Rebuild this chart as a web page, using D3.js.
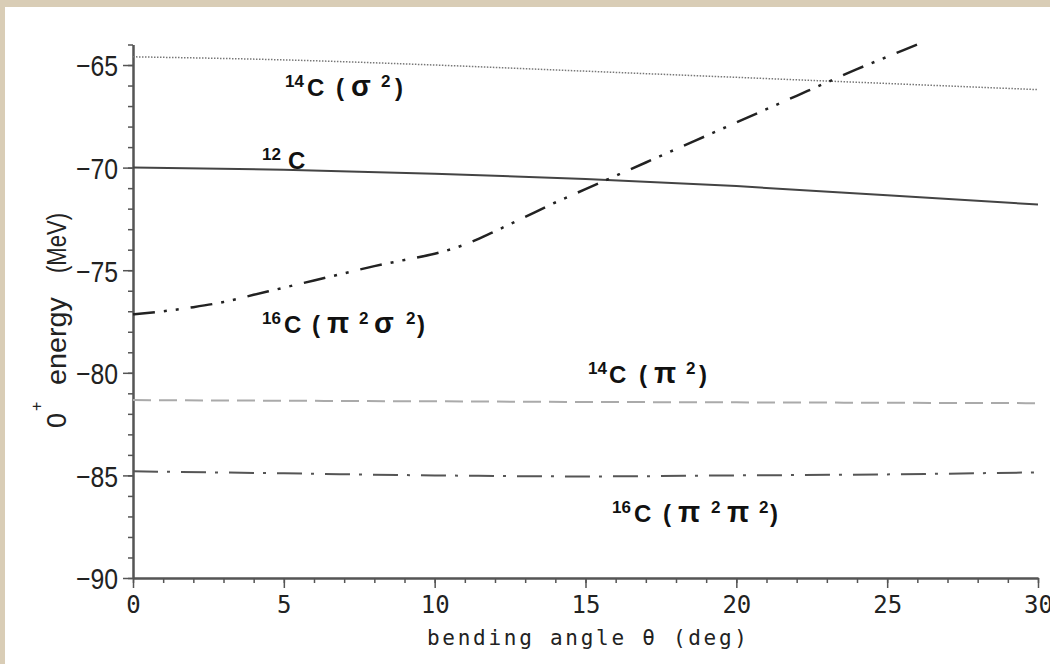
<!DOCTYPE html>
<html>
<head>
<meta charset="utf-8">
<script src="https://cdn.jsdelivr.net/npm/d3@7"></script>
<style>
	body { margin: 0; background: #d9cdb6; }
	svg { display: block; }
</style>
</head>
<body>
<div id="energyVis"></div>
<script>
//###########################################################################
//#                               Data                                      #
//###########################################################################

var anglesCoarse = [0, 5, 10, 15, 20, 25, 30];
var anglesFine = [0, 1, 2, 3, 4, 5, 6, 7, 8, 9, 10, 11, 12, 13, 14, 15, 16, 17, 18, 19, 20, 21, 22, 23, 24, 25, 26];

var c14Sigma = [-64.6, -64.75, -65.0, -65.3, -65.6, -65.9, -66.2];
var c12 = [-70.0, -70.1, -70.3, -70.55, -70.9, -71.35, -71.8];
var c16PiSigma = [-77.15, -77.0, -76.8, -76.55, -76.2, -75.85, -75.5, -75.15, -74.8, -74.5, -74.2,
	-73.75, -73.1, -72.4, -71.7, -71.05, -70.4, -69.75, -69.1, -68.45, -67.8, -67.15, -66.5, -65.85, -65.2, -64.6, -64.0];
var c14Pi = [-81.33, -81.36, -81.39, -81.42, -81.44, -81.46, -81.48];
var c16PiPi = [-84.8, -84.9, -85.0, -85.05, -85.0, -84.95, -84.85];

var xMajorTicks = [0, 5, 10, 15, 20, 25, 30];
var yMajorTicks = [-90, -85, -80, -75, -70, -65];

//###########################################################################
//#                          Auxiliary functions                            #
//###########################################################################

function toPoints(xs, ys){
	return xs.map(function(x, i) { return {x: x, y: ys[i]}; });
}

//Builds a label like 14C(σ2) from pieces: [text, kind, offset from label start]
//kind: 0 = normal, 1 = superscript, 2 = greek letter
function addLabel(svg, x, y, pieces){
	var t = svg.append("text").attr("class", "curveLabel");
	pieces.forEach(function(p) {
		var span = t.append("tspan")
			.attr("x", x + p[2])
			.attr("y", p[1] == 1 ? y - 9 : y)
			.text(p[0]);
		if(p[1] == 1) span.style("font-size", "17px");
		if(p[1] == 2) span.style("font-size", "29px");
	});
}

//###########################################################################
//#                             Chart                                       #
//###########################################################################

generateEnergyVis();

function generateEnergyVis(){
	var width = 1050;
	var height = 664;

	var svg = d3.select("#energyVis")
				.append("svg")
				.attr("width", width)
				.attr("height", height);

	//white paper on the beige background
	svg.append("rect")
		.attr("x", 5).attr("y", 7)
		.attr("width", width - 5).attr("height", height - 7)
		.attr("fill", "#ffffff");

	var xscale = d3.scaleLinear().domain([0, 30]).range([133, 1038]);
	var yscale = d3.scaleLinear().domain([-90, -64]).range([578, 44.5]);

	//Axes: major ticks with labels, minor ticks every unit
	var xaxis = d3.axisBottom(xscale).tickValues(xMajorTicks).tickSize(10).tickSizeOuter(0).tickPadding(8)
		.tickFormat(d3.format("d"));
	var xminor = d3.axisBottom(xscale).tickValues(d3.range(0, 31)).tickSize(5).tickSizeOuter(0).tickFormat("");
	var yaxis = d3.axisLeft(yscale).tickValues(yMajorTicks).tickSize(10).tickSizeOuter(0).tickPadding(5)
		.tickFormat(function(d) { return "\u2212" + Math.abs(d); });
	var yminor = d3.axisLeft(yscale).tickValues(d3.range(-90, -63)).tickSize(5).tickSizeOuter(0).tickFormat("");

	var gx = svg.append("g").attr("class", "xaxis").attr("transform", "translate(0," + yscale(-90) + ")");
	gx.call(xminor);
	gx.append("g").call(xaxis);
	var gy = svg.append("g").attr("class", "yaxis").attr("transform", "translate(" + xscale(0) + ",0)");
	gy.call(yminor);
	gy.append("g").call(yaxis);

	svg.selectAll(".xaxis path, .yaxis path").attr("stroke", "#555").attr("stroke-width", 2);
	svg.selectAll(".xaxis line, .yaxis line").attr("stroke", "#555").attr("stroke-width", 1.5);
	svg.selectAll(".xaxis text")
		.attr("fill", "#222")
		.style("font-family", "'DejaVu Sans Mono', 'Liberation Mono', monospace")
		.style("font-size", "24px");
	svg.selectAll(".yaxis text")
		.attr("fill", "#222")
		.style("font-family", "'Liberation Sans', Arial, sans-serif")
		.style("font-size", "30px")
		.attr("textLength", 42)
		.attr("lengthAdjust", "spacingAndGlyphs")
		.attr("dy", "0.36em");

	//Curves
	var line = d3.line()
		.x(function(d) { return xscale(d.x); })
		.y(function(d) { return yscale(d.y); })
		.curve(d3.curveMonotoneX);

	var series = [
		{pts: toPoints(anglesCoarse, c14Sigma), color: "#777", w: 1.5, dash: "1.5,1.5"},
		{pts: toPoints(anglesCoarse, c12), color: "#444", w: 2, dash: null},
		{pts: toPoints(anglesFine, c16PiSigma), color: "#222", w: 2.5, dash: "22,9,3,9,3,12"},
		{pts: toPoints(anglesCoarse, c14Pi), color: "#aaa", w: 2, dash: "18,8"},
		{pts: toPoints(anglesCoarse, c16PiPi), color: "#555", w: 2, dash: "25,9,3,11"}
	];

	svg.selectAll("path.curve")
		.data(series)
		.enter().append("path")
			.attr("class", "curve")
			.attr("fill", "none")
			.attr("stroke", function(d) { return d.color; })
			.attr("stroke-width", function(d) { return d.w; })
			.attr("stroke-dasharray", function(d) { return d.dash; })
			.attr("d", function(d) { return line(d.pts); });

	//Curve labels
	addLabel(svg, 285, 96, [["14", 1, 0], ["C", 0, 22], ["(", 0, 51], ["\u03c3", 2, 66], ["2", 1, 96], [")", 0, 110]]);
	addLabel(svg, 262, 169, [["12", 1, 0], ["C", 0, 26]]);
	addLabel(svg, 262, 333, [["16", 1, 0], ["C", 0, 22], ["(", 0, 50], ["\u03c0", 2, 65], ["2", 1, 97],
		["\u03c3", 2, 112], ["2", 1, 144], [")", 0, 155]]);
	addLabel(svg, 588, 383, [["14", 1, 0], ["C", 0, 21], ["(", 0, 51], ["\u03c0", 2, 66], ["2", 1, 98], [")", 0, 111]]);
	addLabel(svg, 612, 522, [["16", 1, 0], ["C", 0, 22], ["(", 0, 51], ["\u03c0", 2, 66], ["2", 1, 99],
		["\u03c0", 2, 115], ["2", 1, 147], [")", 0, 158]]);

	svg.selectAll(".curveLabel")
		.attr("fill", "#111")
		.style("font-family", "'Liberation Sans', Arial, sans-serif")
		.style("font-weight", "bold")
		.style("font-size", "24px");

	//Axis titles
	svg.append("text")
		.attr("x", 427)
		.attr("y", 645)
		.attr("textLength", 320)
		.attr("lengthAdjust", "spacing")
		.attr("fill", "#222")
		.style("font-family", "'DejaVu Sans Mono', 'Liberation Mono', monospace")
		.style("font-size", "21px")
		.text("bending angle \u03b8 (deg)");

	var ylab = svg.append("g").attr("transform", "translate(66,0) rotate(-90)")
		.attr("fill", "#222")
		.style("font-family", "'Liberation Sans', Arial, sans-serif")
		.style("font-size", "27px");
	ylab.append("text").attr("x", -428).attr("y", 0).text("0");
	ylab.append("text").attr("x", -411).attr("y", -24).style("font-size", "16px").text("+");
	ylab.append("text").attr("x", -385).attr("y", 0).attr("textLength", 88).attr("lengthAdjust", "spacingAndGlyphs").text("energy");
	ylab.append("text").attr("x", -273).attr("y", 0).attr("textLength", 60).attr("lengthAdjust", "spacingAndGlyphs").text("(MeV)");
}
</script>
</body>
</html>
